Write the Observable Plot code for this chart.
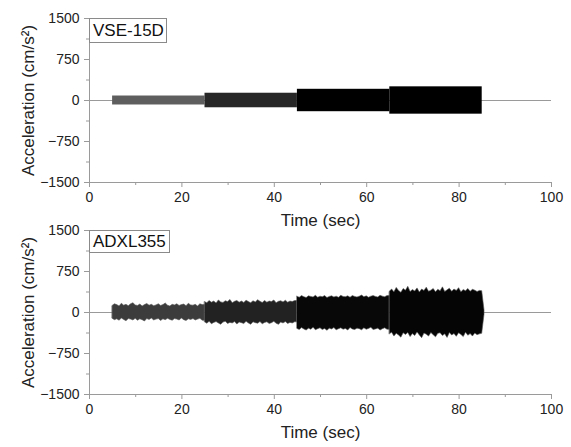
<!DOCTYPE html>
<html><head><meta charset="utf-8">
<script src="https://cdn.jsdelivr.net/npm/d3@7"></script>
<script src="https://cdn.jsdelivr.net/npm/@observablehq/plot@0.6"></script>
<style>
body{margin:0;background:#fff;}
#wrap{position:relative;width:571px;height:447px;font-family:"Liberation Sans",Arial,sans-serif;overflow:hidden;}
.panel{position:absolute;left:0;}
.tag{position:absolute;left:89px;border:1px solid #8a8a8a;background:#fff;font-size:17px;color:#111;box-sizing:border-box;padding:0 0 0 3px;display:flex;align-items:center;}
</style></head><body><div id="wrap"></div>
<script>
// ---- data ----
const xMajor = [0, 20, 40, 60, 80, 100];
const xMinor = [10, 30, 50, 70, 90];
const yMajor = [-1500, -750, 0, 750, 1500];
const yMinor = [-1125, -375, 375, 1125];

const segStart = [5, 25, 45, 65];
const segEnd   = [25, 45, 65, 85];

// VSE-15D: constant-amplitude sine blocks (cm/s^2)
const vseAmp = [82, 133, 205, 250];

// ADXL355: envelope of the recorded signal every 0.5 s from t = 5 s (cm/s^2)
const adxlT0 = 5, adxlDt = 0.5;
const adxlUpper = [
  120,150,135,110,160,125,140,115,150,170,130,120,145,110,135,155,125,140,115,130,
  150,120,135,165,125,110,140,130,150,120,135,145,115,160,130,125,140,110,150,135,
  190,170,210,180,200,165,220,185,175,205,190,230,170,195,210,180,200,175,215,190,
  170,205,185,225,195,175,210,180,200,190,220,170,195,205,185,215,180,200,190,210,
  290,270,300,280,265,295,285,275,305,270,290,280,300,265,285,295,275,290,270,305,
  285,280,295,270,300,285,275,290,310,280,295,270,290,300,285,275,305,290,280,300,
  380,420,370,450,395,360,430,400,470,375,410,385,440,365,420,395,455,380,400,430,
  370,415,390,460,375,405,435,380,420,395,445,370,410,390,430,380,415,400,375,395,390,40
];
const adxlLower = [
  -115,-140,-125,-150,-110,-135,-160,-120,-130,-145,-115,-150,-125,-140,-165,-120,-135,-110,-145,-130,
  -120,-155,-125,-140,-115,-135,-150,-120,-130,-145,-110,-140,-155,-125,-135,-120,-145,-130,-115,-150,
  -180,-205,-170,-215,-190,-175,-200,-225,-185,-170,-210,-190,-200,-175,-220,-185,-195,-210,-170,-200,
  -225,-180,-195,-205,-175,-215,-190,-180,-210,-195,-170,-205,-225,-185,-200,-175,-210,-190,-200,-180,
  -300,-320,-285,-310,-330,-295,-315,-280,-325,-305,-290,-320,-300,-335,-295,-310,-285,-325,-305,-290,
  -315,-300,-330,-285,-310,-320,-295,-305,-325,-290,-315,-300,-280,-320,-310,-295,-330,-305,-290,-315,
  -400,-370,-440,-390,-420,-460,-380,-410,-375,-450,-395,-430,-365,-420,-470,-385,-405,-440,-375,-415,
  -455,-390,-380,-430,-400,-465,-375,-420,-395,-445,-380,-410,-450,-370,-425,-395,-440,-385,-415,-400,-390,-40
];

const vseFill  = ["#5e5e5e", "#272727", "#000", "#000"];
const adxlFill = ["#3c3c3c", "#222", "#080808", "#050505"];

// ---- build tables ----
const adxlRows = adxlUpper.map((hi, i) => ({t: adxlT0 + adxlDt * i, hi, lo: adxlLower[i]}));
const adxlSegs = segStart.map((s, k) => {
  const last = k === segStart.length - 1;
  const rows = adxlRows.filter(r => r.t >= s && (last ? true : r.t < segEnd[k]));
  if (!last) { const r = rows[rows.length - 1]; rows.push({t: segEnd[k], hi: r.hi, lo: r.lo}); }
  return rows;
});

const fmt = d => d < 0 ? "\u2212" + Math.abs(d) : String(d);
const axisGray = "#9a9a9a";

function panel(signalMarks, height, marginTop, marginBottom) {
  return Plot.plot({
    width: 571, height, marginLeft: 89, marginRight: 20, marginTop, marginBottom,
    x: {domain: [0, 100]},
    y: {domain: [-1500, 1500]},
    style: {fontFamily: '"Liberation Sans", Arial, sans-serif', fontSize: "14px", color: "#222", overflow: "visible", background: "transparent"},
    marks: [
      Plot.ruleY([0], {stroke: axisGray}),
      ...signalMarks,
      Plot.ruleX([0], {stroke: axisGray}),
      Plot.ruleY([-1500], {stroke: axisGray}),
      Plot.axisX({ticks: xMajor, tickSize: 5, tickPadding: 5, tickFormat: fmt, stroke: axisGray, label: null}),
      Plot.axisX({ticks: xMinor, tickSize: 3, tickFormat: () => "", stroke: axisGray, label: null}),
      Plot.axisY({ticks: yMajor, tickSize: 5, tickPadding: 5, tickFormat: fmt, stroke: axisGray, label: null}),
      Plot.axisY({ticks: yMinor, tickSize: 3, tickFormat: () => "", stroke: axisGray, label: null}),
      Plot.text(["Acceleration (cm/s\u00b2)"], {frameAnchor: "left", textAnchor: "middle", rotate: -90, dx: -61, fontSize: 17}),
      Plot.text(["Time (sec)"], {frameAnchor: "bottom", dy: 43, fontSize: 17})
    ]
  });
}

const vseMarks = segStart.map((s, k) =>
  Plot.rect([k], {x1: i => segStart[i], x2: i => segEnd[i], y1: i => -vseAmp[i], y2: i => vseAmp[i], fill: vseFill[k]})
);
const adxlMarks = adxlSegs.map((rows, k) =>
  Plot.areaY(rows, {x: "t", y1: "lo", y2: "hi", fill: adxlFill[k], stroke: "#555", strokeWidth: 0.6})
);

const wrap = document.getElementById("wrap");
const p1 = panel(vseMarks, 222, 18, 40);
p1.classList.add("panel"); p1.style.top = "0px";
const p2 = panel(adxlMarks, 225, 8, 53);
p2.classList.add("panel"); p2.style.top = "222px";
wrap.append(p1, p2);

function tag(text, top, w, h) {
  const d = document.createElement("div");
  d.className = "tag"; d.textContent = text;
  d.style.top = top + "px"; d.style.width = w + "px"; d.style.height = h + "px";
  wrap.append(d);
}
tag("VSE-15D", 18, 78, 25);
tag("ADXL355", 230, 81, 23);
</script></body></html>
